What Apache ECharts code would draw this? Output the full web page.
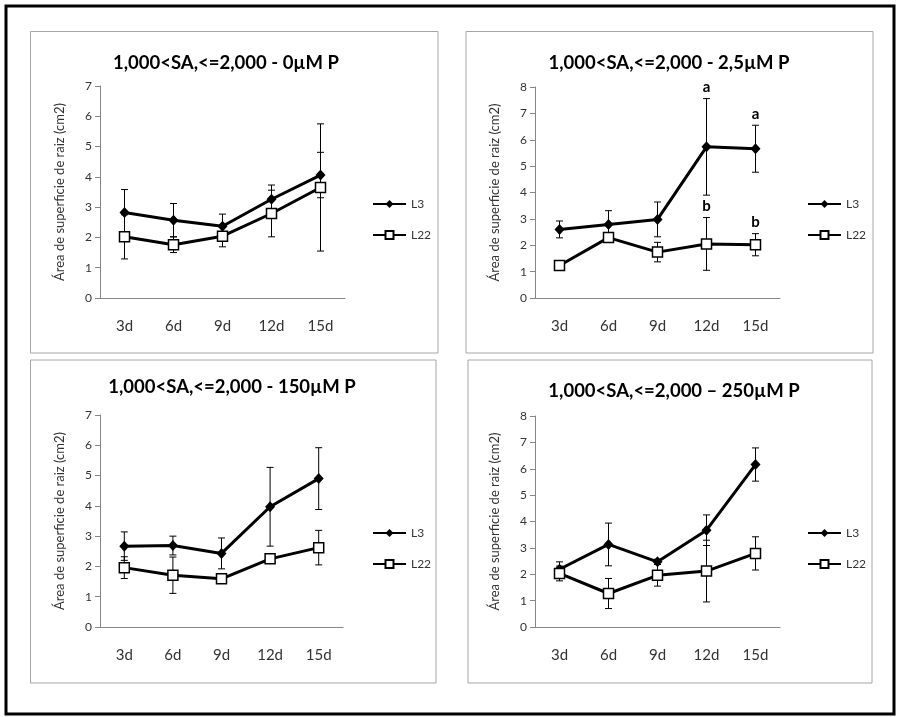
<!DOCTYPE html>
<html>
<head>
<meta charset="utf-8">
<script src="https://cdn.jsdelivr.net/npm/echarts@6/dist/echarts.min.js"></script>
<style>
html,body{margin:0;padding:0;background:#fff;}
#chart{width:897px;height:717px;}
</style>
</head>
<body>
<div id="chart"></div>
<script>
// 数据
var days = ['3d', '6d', '9d', '12d', '15d'];
var legendNames = ['L3', 'L22'];
var panelTitles = ['1,000<SA,<=2,000 - 0µM P', '1,000<SA,<=2,000 - 2,5µM P', '1,000<SA,<=2,000 - 150µM P', '1,000<SA,<=2,000 – 250µM P'];
var yTitle = 'Área de superficie de raiz (cm2)';
var yMax = [7, 8, 7, 8];

// 0µM P
var l3_0 = [2.82, 2.57, 2.37, 3.26, 4.06];
var l3_0err = [0.76, 0.55, 0.40, 0.47, 0.75];
var l22_0 = [2.02, 1.76, 2.04, 2.79, 3.65];
var l22_0err = [0.73, 0.26, 0.35, 0.77, 2.10];

// 2,5µM P
var l3_25 = [2.60, 2.79, 2.98, 5.73, 5.66];
var l3_25err = [0.32, 0.52, 0.66, 1.83, 0.89];
var l22_25 = [1.23, 2.29, 1.74, 2.05, 2.02];
var l22_25err = [0.05, 0.10, 0.37, 1.00, 0.42];
var l3_25sig = ['', '', '', 'a', 'a'];
var l22_25sig = ['', '', '', 'b', 'b'];

// 150µM P
var l3_150 = [2.67, 2.69, 2.43, 3.97, 4.90];
var l3_150err = [0.47, 0.31, 0.51, 1.30, 1.02];
var l22_150 = [1.96, 1.71, 1.59, 2.25, 2.62];
var l22_150err = [0.36, 0.60, 0.05, 0.05, 0.57];

// 250µM P
var l3_250 = [2.19, 3.13, 2.47, 3.67, 6.16];
var l3_250err = [0.28, 0.81, 0.10, 0.58, 0.63];
var l22_250 = [2.03, 1.27, 1.96, 2.12, 2.79];
var l22_250err = [0.28, 0.57, 0.41, 1.17, 0.63];

var panels = [
    {l3: l3_0, l3e: l3_0err, l22: l22_0, l22e: l22_0err},
    {l3: l3_25, l3e: l3_25err, l22: l22_25, l22e: l22_25err, l3s: l3_25sig, l22s: l22_25sig},
    {l3: l3_150, l3e: l3_150err, l22: l22_150, l22e: l22_150err},
    {l3: l3_250, l3e: l3_250err, l22: l22_250, l22e: l22_250err}
];

// 布局
var grids = [
    {left: 100, top: 86, width: 245, height: 212},
    {left: 535, top: 87, width: 245, height: 211},
    {left: 100, top: 415, width: 243, height: 212},
    {left: 535, top: 416, width: 245, height: 211}
];
var boxes = [
    [30.5, 31.5, 407.5, 321.5],
    [466, 31.5, 407, 321.5],
    [30.5, 360, 405.5, 323],
    [468, 360, 404, 323]
];
var titlePos = [[226, 63], [669, 63], [232, 387], [674, 391]];
var legendPos = [[367, 193], [802, 193], [367, 522], [802, 522]];

var FONT = 'Lato, "Liberation Sans", sans-serif';

function errBar(sig) {
    return function (params, api) {
        var i = api.value(0), v = api.value(1), e = api.value(2);
        var hi = api.coord([i, v + e]);
        var lo = api.coord([i, v - e]);
        var w = 3.5;
        var st = {stroke: '#000', lineWidth: 1};
        var kids = [
            {type: 'line', shape: {x1: hi[0], y1: hi[1], x2: lo[0], y2: lo[1]}, style: st},
            {type: 'line', shape: {x1: hi[0] - w, y1: hi[1], x2: hi[0] + w, y2: hi[1]}, style: st},
            {type: 'line', shape: {x1: lo[0] - w, y1: lo[1], x2: lo[0] + w, y2: lo[1]}, style: st}
        ];
        if (sig && sig[params.dataIndex]) {
            kids.push({type: 'text', x: hi[0], y: hi[1] - 4, style: {
                text: sig[params.dataIndex], textAlign: 'center', textVerticalAlign: 'bottom',
                font: 'bold 15px ' + FONT, fill: '#000'}});
        }
        return {type: 'group', children: kids};
    };
}

function pack(vals, errs) {
    return days.map(function (d, i) { return [i, vals[i], errs[i]]; });
}

var xAxes = [], yAxes = [], series = [], legends = [], graphics = [];

graphics.push({type: 'rect', shape: {x: 6, y: 6, width: 888, height: 708},
    style: {fill: 'none', stroke: '#000', lineWidth: 3}, silent: true});

panels.forEach(function (p, k) {
    var b = boxes[k];
    graphics.push({type: 'rect', shape: {x: b[0], y: b[1], width: b[2], height: b[3]},
        style: {fill: 'none', stroke: '#a6a6a6', lineWidth: 1}, silent: true});
    graphics.push({type: 'text', x: titlePos[k][0], y: titlePos[k][1], silent: true,
        style: {text: panelTitles[k], textAlign: 'center', textVerticalAlign: 'middle',
            font: 'bold 18.5px ' + FONT, fill: '#000'}});

    xAxes.push({
        type: 'category', gridIndex: k, data: days, boundaryGap: true,
        axisLine: {lineStyle: {color: '#868686', width: 1}},
        axisTick: {length: 5, interval: 0, lineStyle: {color: '#868686'}},
        axisLabel: {margin: 21, fontSize: 15, color: '#333', fontFamily: FONT}
    });
    yAxes.push({
        type: 'value', gridIndex: k, min: 0, max: yMax[k], interval: 1,
        name: yTitle, nameLocation: 'middle', nameRotate: 90, nameGap: 34,
        nameTextStyle: {fontSize: 13, color: '#333', fontFamily: FONT},
        axisLine: {show: true, lineStyle: {color: '#868686', width: 1}},
        axisTick: {show: true, length: 5, lineStyle: {color: '#868686'}},
        splitLine: {show: false},
        axisLabel: {margin: 8, fontSize: 12, color: '#333', fontFamily: FONT}
    });

    series.push({
        type: 'custom', name: 'L3 err', xAxisIndex: k, yAxisIndex: k, z: 1,
        renderItem: errBar(p.l3s), data: pack(p.l3, p.l3e), encode: {x: 0, y: 1}
    });
    series.push({
        type: 'custom', name: 'L22 err', xAxisIndex: k, yAxisIndex: k, z: 1,
        renderItem: errBar(p.l22s), data: pack(p.l22, p.l22e), encode: {x: 0, y: 1}
    });
    series.push({
        type: 'line', name: 'L3', xAxisIndex: k, yAxisIndex: k, z: 3,
        data: p.l3, symbol: 'diamond', symbolSize: [10, 11],
        itemStyle: {color: '#000'}, lineStyle: {color: '#000', width: 3}
    });
    series.push({
        type: 'line', name: 'L22', xAxisIndex: k, yAxisIndex: k, z: 3,
        data: p.l22, symbol: 'rect', symbolSize: 10,
        itemStyle: {color: '#fff', borderColor: '#000', borderWidth: 1.5},
        lineStyle: {color: '#000', width: 3}
    });

    legends.push({
        data: legendNames, orient: 'vertical', left: legendPos[k][0], top: legendPos[k][1],
        itemWidth: 33, itemHeight: 10, itemGap: 19, selectedMode: false,
        textStyle: {fontSize: 12, color: '#333', fontFamily: FONT}
    });
});

var chart = echarts.init(document.getElementById('chart'));
chart.setOption({
    backgroundColor: '#fff',
    animation: false,
    grid: grids,
    xAxis: xAxes,
    yAxis: yAxes,
    legend: legends,
    series: series,
    graphic: graphics
});
</script>
</body>
</html>
